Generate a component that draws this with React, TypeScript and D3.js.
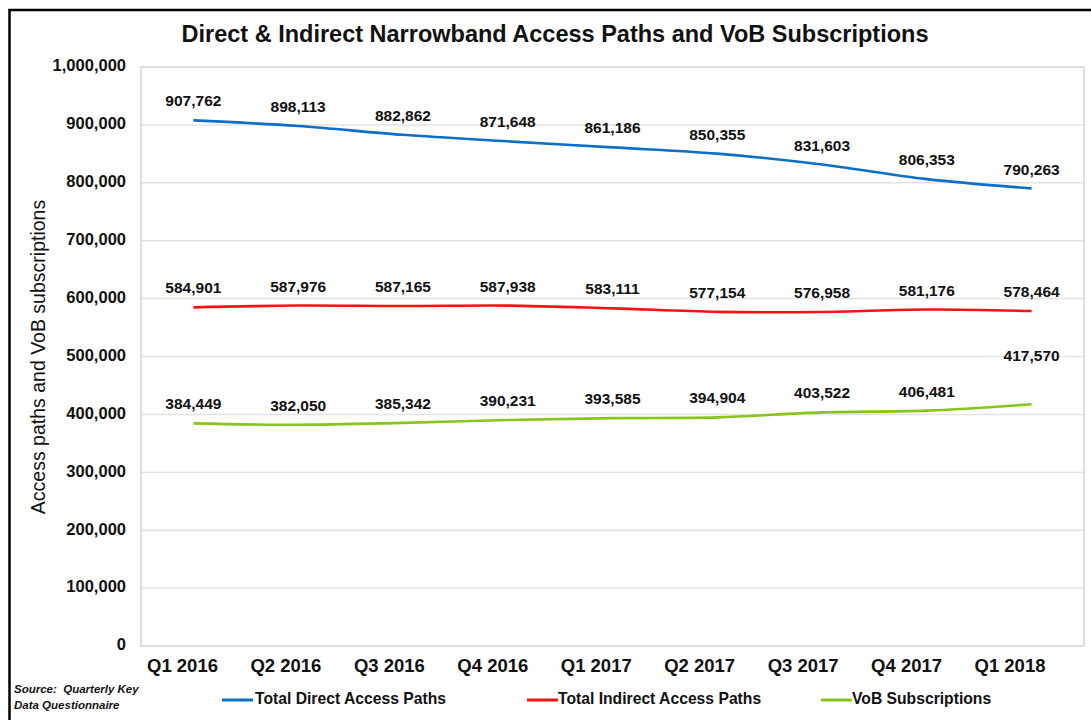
import React from "react";
import * as d3 from "d3";

const categories = ["Q1 2016", "Q2 2016", "Q3 2016", "Q4 2016", "Q1 2017", "Q2 2017", "Q3 2017", "Q4 2017", "Q1 2018"];
const directPaths = [907762, 898113, 882862, 871648, 861186, 850355, 831603, 806353, 790263];
const indirectPaths = [584901, 587976, 587165, 587938, 583111, 577154, 576958, 581176, 578464];
const vobSubs = [384449, 382050, 385342, 390231, 393585, 394904, 403522, 406481, 417570];
const yTicks = [0, 100000, 200000, 300000, 400000, 500000, 600000, 700000, 800000, 900000, 1000000];

const series = [
  { name: "Total Direct Access Paths", values: directPaths, color: "#0a6fc6" },
  { name: "Total Indirect Access Paths", values: indirectPaths, color: "#ff1111" },
  { name: "VoB Subscriptions", values: vobSubs, color: "#86c51a" },
];

const W = 1091, H = 720;
const plot = { left: 141, right: 1084, top: 67, bottom: 646 };
const FONT = "Arial, 'Liberation Sans', sans-serif";

export default function App() {
  const x = d3.scalePoint<string>().domain(categories).range([plot.left, plot.right]).padding(0.5);
  const xLab = d3.scalePoint<string>().domain(categories).range([182.5, 1010]);
  const y = d3.scaleLinear().domain([0, 1000000]).range([plot.bottom, plot.top]);
  const fmt = d3.format(",");
  const line = d3.line<number>().x((_, i) => x(categories[i]) as number).y((d) => y(d)).curve(d3.curveCatmullRom.alpha(0.5));

  const labelOffset = (si: number, i: number) => (si === 2 && i === categories.length - 1 ? 47 : 18);

  const legend = [
    { lx: 222, tx: 255 },
    { lx: 527, tx: 558 },
    { lx: 821, tx: 852 },
  ];

  return (
    <svg width={W} height={H} style={{ position: "absolute", left: 0, top: 0, background: "#fff" }} fontFamily={FONT}>
      <rect x={0} y={0} width={W} height={H} fill="#fff" />
      <rect x={9.5} y={10} width={1200} height={900} fill="none" stroke="#000" strokeWidth={2.5} />
      <text x={555} y={36} textAnchor="middle" dominantBaseline="middle" fontSize={23.5} fontWeight="bold" fill="#111">
        Direct &amp; Indirect Narrowband Access Paths and VoB Subscriptions
      </text>
      {yTicks.map((t) => (
        <g key={t}>
          {t > 0 && t < 1000000 && (
            <line x1={plot.left} x2={plot.right} y1={y(t)} y2={y(t)} stroke="#e3e3e3" strokeWidth={1.5} />
          )}
          <text x={126} y={y(t)} textAnchor="end" dominantBaseline="middle" fontSize={16.5} fontWeight="bold" fill="#111">
            {fmt(t)}
          </text>
        </g>
      ))}
      <rect x={plot.left} y={plot.top} width={plot.right - plot.left} height={plot.bottom - plot.top} fill="none" stroke="#d4d4d4" strokeWidth={1.5} />
      {categories.map((c) => (
        <text key={c} x={xLab(c)} y={667} textAnchor="middle" dominantBaseline="middle" fontSize={18.5} fontWeight="bold" fill="#111">
          {c}
        </text>
      ))}
      <text transform="translate(40,357) rotate(-90)" textAnchor="middle" dominantBaseline="middle" fontSize={19.5} fill="#111">
        Access paths and VoB subscriptions
      </text>
      {series.map((s, si) => (
        <g key={s.name}>
          <path d={line(s.values) || ""} fill="none" stroke={s.color} strokeWidth={2.6} />
          {s.values.map((v, i) => (
            <text key={i} x={x(categories[i])} y={y(v) - labelOffset(si, i)} textAnchor="middle" dominantBaseline="middle" fontSize={15.5} fontWeight="bold" fill="#111">
              {fmt(v)}
            </text>
          ))}
        </g>
      ))}
      {series.map((s, si) => (
        <g key={s.name + "-lg"}>
          <line x1={legend[si].lx} x2={legend[si].lx + 31} y1={700} y2={700} stroke={s.color} strokeWidth={3} />
          <text x={legend[si].tx} y={700} dominantBaseline="middle" fontSize={15.7} fontWeight="bold" fill="#111">
            {s.name}
          </text>
        </g>
      ))}
      <text x={14} y={690} fontSize={11.5} fontStyle="italic" fontWeight="bold" fill="#111" dominantBaseline="middle">
        {"Source:\u00a0 Quarterly Key"}
      </text>
      <text x={14} y={706} fontSize={11.5} fontStyle="italic" fontWeight="bold" fill="#111" dominantBaseline="middle">
        Data Questionnaire
      </text>
    </svg>
  );
}
